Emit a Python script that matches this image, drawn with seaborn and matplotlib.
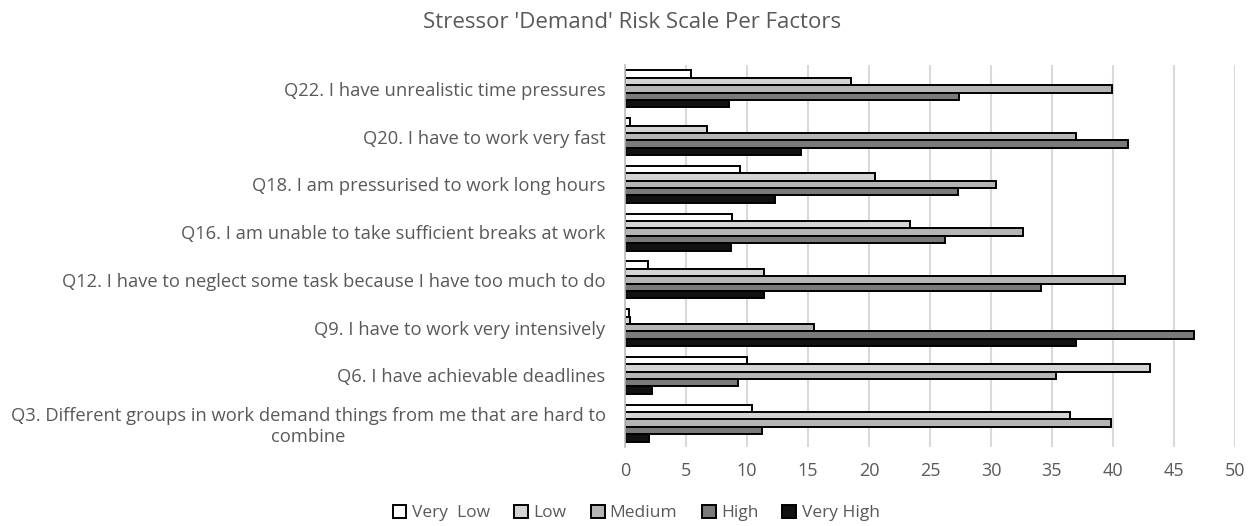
import matplotlib
matplotlib.use("Agg")
import matplotlib.pyplot as plt
import seaborn as sns
import pandas as pd
from matplotlib.patches import Patch

categories = [
    "Q22. I have unrealistic time pressures",
    "Q20. I have to work very fast",
    "Q18. I am pressurised to work long hours",
    "Q16. I am unable to take sufficient breaks at work",
    "Q12. I have to neglect some task because I have too much to do",
    "Q9. I have to work very intensively",
    "Q6. I have achievable deadlines",
    "Q3. Different groups in work demand things from me that are hard to\ncombine",
]
levels = ["Very  Low", "Low", "Medium", "High", "Very High"]
very_low = [5.4, 0.4, 9.4, 8.8, 1.9, 0.3, 10.0, 10.4]
low = [18.5, 6.7, 20.5, 23.4, 11.4, 0.4, 43.0, 36.5]
medium = [39.9, 37.0, 30.4, 32.6, 41.0, 15.5, 35.3, 39.8]
high = [27.4, 41.2, 27.3, 26.2, 34.1, 46.6, 9.3, 11.2]
very_high = [8.5, 14.4, 12.3, 8.7, 11.4, 37.0, 2.2, 1.95]
xticks = [0, 5, 10, 15, 20, 25, 30, 35, 40, 45, 50]

colors = ["#ffffff", "#d4d4d4", "#b5b5b5", "#7a7a7a", "#111111"]

rows = []
for series, name in zip([very_low, low, medium, high, very_high], levels):
    for c, v in zip(categories, series):
        rows.append({"Question": c, "Level": name, "Value": v})
df = pd.DataFrame(rows)

sns.set_style("white")
plt.rcParams["font.family"] = ["Open Sans", "DejaVu Sans"]

W, H = 1251, 526
fig = plt.figure(figsize=(W / 100, H / 100), dpi=100)
ax = fig.add_axes([625 / W, 1 - 447 / H, (1235 - 625) / W, (447 - 65) / H])

sns.barplot(data=df, y="Question", x="Value", hue="Level", order=categories,
            hue_order=levels, palette=colors, orient="h", width=0.77,
            edgecolor="black", linewidth=1.4, ax=ax, legend=False, zorder=3)

ax.set_xlim(0, 50)
ax.set_xticks(xticks)
ax.set_xticklabels([str(t) for t in xticks], fontsize=13, color="#595959")
ax.tick_params(axis="x", length=0, pad=11)
ax.tick_params(axis="y", length=0, pad=14)
for lbl in ax.get_yticklabels():
    lbl.set_fontsize(13.2)
    lbl.set_color("#595959")
    lbl.set_multialignment("center")
ax.set_xlabel("")
ax.set_ylabel("")
ax.grid(axis="x", color="#d9d9d9", linewidth=1.5, zorder=0)
ax.grid(axis="y", visible=False)
for s in ["top", "right", "bottom"]:
    ax.spines[s].set_visible(False)
ax.spines["left"].set_color("#bfbfbf")
ax.spines["left"].set_linewidth(1.2)
ax.spines["left"].set_zorder(4)

fig.text(632 / W, 1 - 22 / H, "Stressor 'Demand' Risk Scale Per Factors",
         ha="center", va="center", fontsize=16, color="#595959")

handles = [Patch(facecolor=c, edgecolor="black", linewidth=1.4, label=l)
           for c, l in zip(colors, levels)]
fig.legend(handles=handles, loc="center", bbox_to_anchor=(636 / W, 1 - 513 / H),
           ncol=5, frameon=False, fontsize=12.5, handlelength=0.8, handleheight=0.8,
           handletextpad=0.3, columnspacing=1.4, labelcolor="#595959")

fig.savefig("out.png", dpi=100)
